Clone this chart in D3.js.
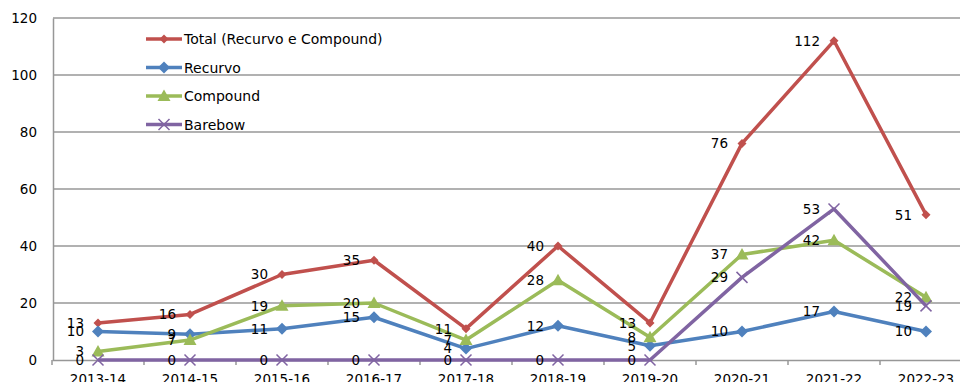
<!DOCTYPE html>
<html><head><meta charset="utf-8">
<script src="https://cdn.jsdelivr.net/npm/d3@7/dist/d3.min.js"></script>
<style>html,body{margin:0;padding:0;background:#fff;overflow:hidden}svg{display:block}</style>
</head><body>
<script>
const categories = ["2013-14","2014-15","2015-16","2016-17","2017-18","2018-19","2019-20","2020-21","2021-22","2022-23"];
const seriesNames = ["Total (Recurvo e Compound)","Recurvo","Compound","Barebow"];
const totalValues = [13,16,30,35,11,40,13,76,112,51];
const recurvoValues = [10,9,11,15,4,12,5,10,17,10];
const compoundValues = [3,7,19,20,7,28,8,37,42,22];
const barebowValues = [0,0,0,0,0,0,0,29,53,19];
const yTicks = [0,20,40,60,80,100,120];

const series = [
  {name: seriesNames[0], values: totalValues, color: "#C0504D", marker: "diamondSmall"},
  {name: seriesNames[1], values: recurvoValues, color: "#4F81BD", marker: "diamond"},
  {name: seriesNames[2], values: compoundValues, color: "#9BBB59", marker: "triangle"},
  {name: seriesNames[3], values: barebowValues, color: "#8064A2", marker: "cross"}
];

const W = 960, H = 382;
const font = "DejaVu Sans, Verdana, sans-serif";
const svg = d3.select("body").append("svg").attr("width", W).attr("height", H);

const x = d3.scaleBand().domain(categories).range([52, 972]);
const y = d3.scaleLinear().domain([0, 120]).range([360, 18]);
const cx = d => x(d) + x.bandwidth() / 2;

// gridlines
svg.append("g").selectAll("line").data(yTicks.filter(t => t > 0)).join("line")
  .attr("x1", 53).attr("x2", 972).attr("y1", d => y(d)).attr("y2", d => y(d))
  .attr("stroke", "#979797").attr("stroke-width", 1.5);

// y axis
const yAxis = d3.axisLeft(y).tickValues(yTicks).tickSize(0).tickPadding(16);
const gy = svg.append("g").attr("transform", "translate(53,0)").call(yAxis);
gy.select(".domain").attr("stroke", "#979797").attr("stroke-width", 1.5);
gy.selectAll("text").attr("font-family", font).attr("font-size", 13.5).attr("fill", "#000");

// x axis
const xAxis = d3.axisBottom(x).tickSize(0).tickPadding(0);
const gx = svg.append("g").attr("transform", "translate(0,360)").call(xAxis);
gx.select(".domain").attr("stroke", "#979797").attr("stroke-width", 1.5);
gx.selectAll("text").attr("font-family", font).attr("font-size", 13.5).attr("fill", "#000")
  .attr("dy", 0).attr("y", 24);
// boundary tick marks
const bounds = categories.map(c => x(c)).concat([x(categories[categories.length-1]) + x.bandwidth()]);
gx.append("g").selectAll("line").data(bounds).join("line")
  .attr("x1", d => d).attr("x2", d => d).attr("y1", 0).attr("y2", 5)
  .attr("stroke", "#979797").attr("stroke-width", 1.5);

function drawMarker(g, type, color) {
  if (type === "diamondSmall") {
    g.append("path").attr("d", "M0,-4.5L4.5,0L0,4.5L-4.5,0Z").attr("fill", color);
  } else if (type === "diamond") {
    g.append("path").attr("d", "M0,-6L6,0L0,6L-6,0Z").attr("fill", color);
  } else if (type === "triangle") {
    g.append("path").attr("d", "M0,-6.5L6.5,5L-6.5,5Z").attr("fill", color);
  } else if (type === "cross") {
    g.append("path").attr("d", "M-5.5,-5.5L5.5,5.5M-5.5,5.5L5.5,-5.5").attr("stroke", color).attr("stroke-width", 1.5).attr("fill", "none");
  }
}

const line = d3.line().x((d, i) => cx(categories[i])).y(d => y(d));

// draw in order: total, recurvo, compound, barebow (barebow on top)
series.forEach(s => {
  svg.append("path").attr("d", line(s.values)).attr("fill", "none")
    .attr("stroke", s.color).attr("stroke-width", 3.5).attr("stroke-linejoin", "round");
  s.values.forEach((v, i) => {
    const g = svg.append("g").attr("transform", `translate(${cx(categories[i])},${y(v)})`);
    drawMarker(g, s.marker, s.color);
  });
});

// data labels
series.forEach(s => {
  svg.append("g").selectAll("text").data(s.values).join("text")
    .attr("x", (d, i) => cx(categories[i]) - 14)
    .attr("y", d => y(d)).attr("dy", "0.36em")
    .attr("text-anchor", "end")
    .attr("font-family", font).attr("font-size", 13.5).attr("fill", "#000")
    .text(d => d);
});

// legend
const lg = svg.append("g");
series.forEach((s, i) => {
  const ly = 39 + i * 28.5;
  lg.append("line").attr("x1", 146).attr("x2", 182).attr("y1", ly).attr("y2", ly)
    .attr("stroke", s.color).attr("stroke-width", 3.5);
  const g = lg.append("g").attr("transform", `translate(164,${ly})`);
  drawMarker(g, s.marker, s.color);
  lg.append("text").attr("x", 184).attr("y", ly).attr("dy", "0.36em")
    .attr("font-family", font).attr("font-size", 14).attr("fill", "#000").text(s.name);
});
</script>
</body></html>
